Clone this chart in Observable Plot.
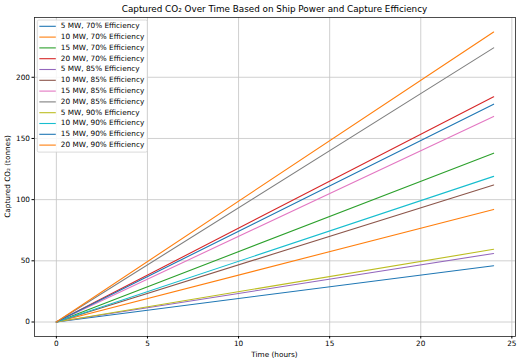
<!DOCTYPE html>
<html>
<head>
<meta charset="utf-8">
<script src="https://cdn.jsdelivr.net/npm/d3@7"></script>
<script src="https://cdn.jsdelivr.net/npm/@observablehq/plot@0.6"></script>
<style>
  html, body { margin: 0; padding: 0; background: #fff; }
  #chart { width: 523px; height: 364px; }
</style>
</head>
<body>
<div id="chart"></div>
<script>
// ---- data ----
const hours = [0, 24];
const powers = ["5 MW", "10 MW", "15 MW", "20 MW"];
const efficiencies = ["70%", "85%", "90%"];
// captured CO2 (tonnes) at 24 h, per power, for each efficiency
const captured70 = [46, 92, 138, 184];
const captured85 = [56, 112, 168, 224];
const captured90 = [59.4, 119, 178, 237];
const xTicks = [0, 5, 10, 15, 20, 25];
const yTicks = [0, 50, 100, 150, 200];

const titleText = "Captured CO\u2082 Over Time Based on Ship Power and Capture Efficiency";
const xLabel = "Time (hours)";
const yLabel = "Captured CO\u2082 (tonnes)";

// matplotlib default cycle
const palette = ["#1f77b4", "#ff7f0e", "#2ca02c", "#d62728", "#9467bd", "#8c564b",
                 "#e377c2", "#7f7f7f", "#bcbd22", "#17becf"];

// ---- build table ----
const byEff = [captured70, captured85, captured90];
const series = [];
efficiencies.forEach((e, ei) => {
  powers.forEach((p, pi) => {
    series.push({ label: `${p}, ${e} Efficiency`, end: byEff[ei][pi] });
  });
});
const labels = series.map(s => s.label);
const colors = series.map((s, i) => palette[i % palette.length]);
const rows = [];
series.forEach(s => {
  hours.forEach((t, i) => rows.push({ label: s.label, t, v: i === 0 ? 0 : s.end }));
});

const xMax = d3.max(hours), xMin = d3.min(hours);
const yMax = d3.max(rows, d => d.v), yMin = 0;
const xPad = (xMax - xMin) * 0.05, yPad = (yMax - yMin) * 0.05;

const W = 523, H = 364;
const mL = 34, mR = 8, mT = 17, mB = 28;
const font = "DejaVu Sans, sans-serif";

const chart = Plot.plot({
  width: W, height: H,
  marginLeft: mL, marginRight: mR, marginTop: mT, marginBottom: mB,
  style: { fontFamily: font, fontSize: "7.3px", color: "#000", background: "#fff" },
  x: { domain: [xMin - xPad, xMax + xPad] },
  y: { domain: [yMin - yPad, yMax + yPad] },
  color: { domain: labels, range: colors },
  marks: [
    Plot.gridX(xTicks, { stroke: "#c4c4c4", strokeWidth: 0.8, strokeOpacity: 1 }),
    Plot.gridY(yTicks, { stroke: "#c4c4c4", strokeWidth: 0.8, strokeOpacity: 1 }),
    Plot.line(rows, { x: "t", y: "v", z: "label", stroke: "label", strokeWidth: 1.1 }),
    Plot.frame({ stroke: "#222", strokeWidth: 0.8 }),
    Plot.axisX({ ticks: xTicks, tickSize: 2.5, tickPadding: 2, label: null, fontSize: "7.3px" }),
    Plot.axisY({ ticks: yTicks, tickSize: 2.5, tickPadding: 2, label: null, fontSize: "7.3px" })
  ]
});

document.getElementById("chart").appendChild(chart);

const svg = d3.select(chart);
// title
svg.append("text")
  .attr("x", mL + (W - mL - mR) / 2).attr("y", 9)
  .attr("text-anchor", "middle").attr("dominant-baseline", "middle")
  .attr("font-family", font).attr("font-size", "8.8px").attr("fill", "#000")
  .text(titleText);
// x label
svg.append("text")
  .attr("x", mL + (W - mL - mR) / 2).attr("y", 355)
  .attr("text-anchor", "middle").attr("dominant-baseline", "middle")
  .attr("font-family", font).attr("font-size", "7.3px").attr("fill", "#000")
  .text(xLabel);
// y label
svg.append("text")
  .attr("transform", `translate(8,${mT + (H - mT - mB) / 2}) rotate(-90)`)
  .attr("text-anchor", "middle").attr("dominant-baseline", "middle")
  .attr("font-family", font).attr("font-size", "7.3px").attr("fill", "#000")
  .text(yLabel);

// legend (upper left, inside axes)
const lx = mL + 3.3, ly = mT + 3, lw = 110, rowH = 10.8;
const lh = rowH * labels.length + 2.5;
const lg = svg.append("g").attr("text-anchor", "start");
lg.append("rect")
  .attr("x", lx).attr("y", ly).attr("width", lw).attr("height", lh)
  .attr("rx", 1.5).attr("fill", "#fff").attr("fill-opacity", 0.85)
  .attr("stroke", "#d0d0d0").attr("stroke-width", 0.8);
labels.forEach((lab, i) => {
  const cy = ly + 6.3 + i * rowH;
  lg.append("line")
    .attr("x1", lx + 2).attr("x2", lx + 18.5).attr("y1", cy).attr("y2", cy)
    .attr("stroke", colors[i]).attr("stroke-width", 1.1);
  lg.append("text")
    .attr("x", lx + 23.5).attr("y", cy)
    .attr("text-anchor", "start")
    .attr("dominant-baseline", "middle")
    .attr("font-family", font).attr("font-size", "7.3px").attr("fill", "#000")
    .text(lab);
});
</script>
</body>
</html>
